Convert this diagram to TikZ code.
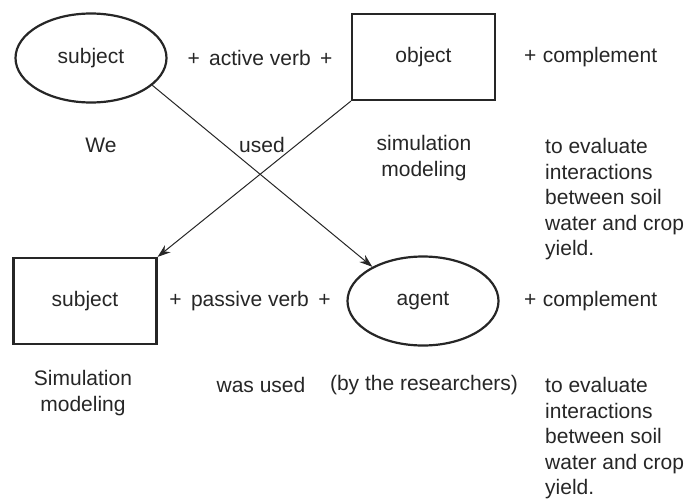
\documentclass[tikz,border=0pt]{standalone}
\usepackage{fontspec}
\setmainfont{Liberation Sans}
\usetikzlibrary{shapes.geometric,arrows.meta}
\begin{document}
\begin{tikzpicture}[x=1pt,y=-1pt,
  txt/.style={font=\fontsize{21}{25.5}\selectfont, inner sep=0pt, text=black!85},
  ell/.style={ellipse, draw=black!85, line width=2.2pt, minimum width=151pt, minimum height=89pt, txt},
  boxn/.style={rectangle, draw=black!85, line width=2.2pt, minimum width=143pt, minimum height=86pt, txt},
  conn/.style={draw=black!85, line width=1pt, -{Stealth[length=13pt,width=9pt]}},
  para/.style={txt, align=left, anchor=north west}]
\useasboundingbox (0,0) rectangle (687,498);
\node[ell] (s1) at (91,58) {subject};
\node[txt] (av) at (260,58) {+\hspace{0.45em}active verb\hspace{0.45em}+};
\node[boxn] (o1) at (423.5,57) {object};
\node[txt, anchor=west] (c1) at (524,57) {+\hspace{0.3em}complement};
\node[txt] (we) at (101,145) {We};
\node[txt] (used) at (262,145) {used};
\node[txt, align=center] (sm1) at (424,158) {simulation\\modeling};
\node[para] (te1) at (545,138.5) {to evaluate\\interactions\\between soil\\water and crop\\yield.};

\node[boxn] (s2) at (85,301) {subject};
\node[txt] (pv) at (250,301) {+\hspace{0.45em}passive verb\hspace{0.45em}+};
\node[ell] (ag) at (423,301) {agent};
\node[txt, anchor=west] (c2) at (524,301) {+\hspace{0.3em}complement};
\node[txt, align=center] (sm2) at (83,393) {Simulation\\modeling};
\node[txt] (wu) at (261,385) {was used};
\node[txt] (by) at (424,385) {(by the researchers)};
\node[para] (te2) at (545,377.5) {to evaluate\\interactions\\between soil\\water and crop\\yield.};

\draw[conn] (s1.-24) -- (ag.146);
\draw[conn] (o1.south west) -- (s2.north east);
\end{tikzpicture}
\end{document}
